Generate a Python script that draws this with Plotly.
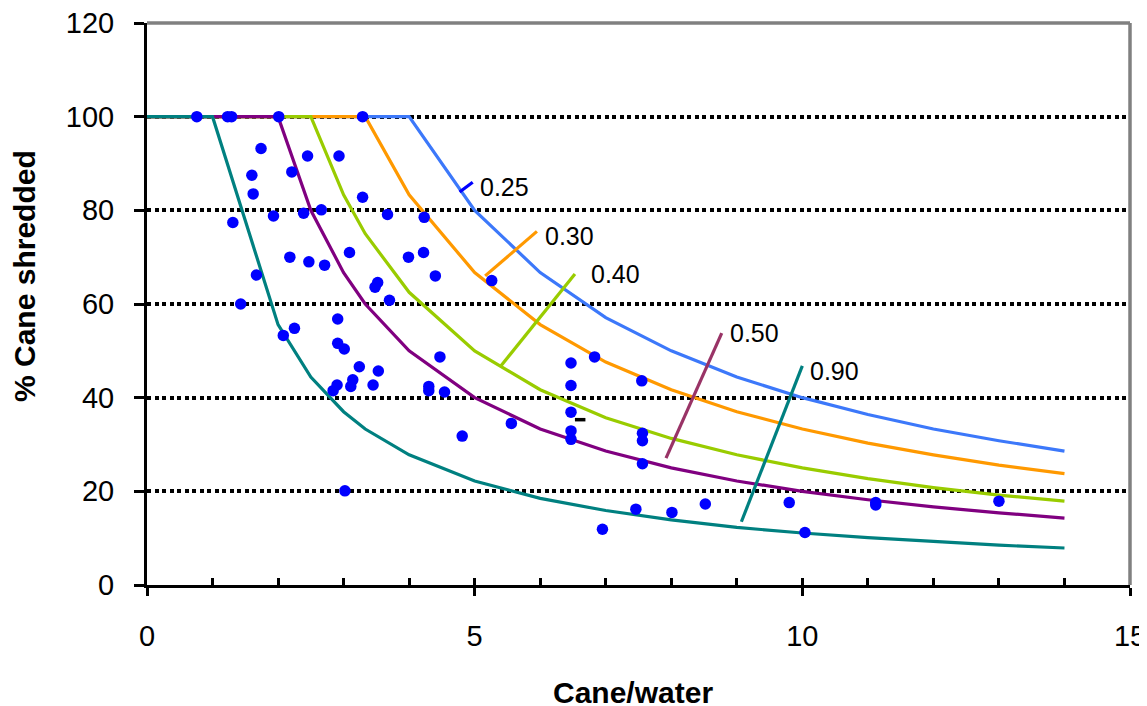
import plotly.graph_objects as go

# Model curves (cane/water vs % cane shredded), one list per water ratio
x_curve = [0, 1, 2, 2.5, 3, 3.33, 4, 5, 6, 7, 8, 9, 10, 11, 12, 13, 14]
y_025 = [100, 100, 100, 100, 100, 100, 100, 80, 66.7, 57.1, 50, 44.4, 40, 36.4, 33.3, 30.8, 28.6]
y_030 = [100, 100, 100, 100, 100, 100, 83.3, 66.7, 55.6, 47.6, 41.7, 37.0, 33.3, 30.3, 27.8, 25.6, 23.8]
y_040 = [100, 100, 100, 100, 83.3, 75, 62.5, 50, 41.7, 35.7, 31.3, 27.8, 25, 22.7, 20.8, 19.2, 17.9]
y_050 = [100, 100, 100, 80, 66.7, 60, 50, 40, 33.3, 28.6, 25, 22.2, 20, 18.2, 16.7, 15.4, 14.3]
y_090 = [100, 100, 55.6, 44.4, 37.0, 33.3, 27.8, 22.2, 18.5, 15.9, 13.9, 12.3, 11.1, 10.1, 9.3, 8.5, 7.9]

curve_names = ["0.25", "0.30", "0.40", "0.50", "0.90"]

# Experimental points
exp_x = [0.76, 1.23, 1.29, 2.01, 3.29,
         1.74, 2.45, 2.93, 1.60, 2.21, 1.62, 3.29,
         1.31, 1.93, 2.39, 2.66, 3.67, 4.23,
         2.18, 2.47, 2.71, 3.09, 3.99, 4.22,
         1.67, 3.52, 3.48, 4.40, 3.70, 1.43,
         2.91, 2.25, 2.08, 2.91, 3.01, 4.47,
         3.24, 3.53, 3.14, 3.11, 2.90, 2.84,
         3.45, 4.30, 4.30, 4.54, 3.02, 5.26,
         6.47, 6.83, 6.47, 7.55, 5.56, 4.81,
         6.47, 6.47, 6.47, 7.56, 7.56, 7.56,
         7.46, 8.01, 8.52, 6.95, 9.80, 10.04,
         11.12, 11.12, 13.00]
exp_y = [100, 100, 100, 100, 100,
         93.2, 91.6, 91.6, 87.5, 88.2, 83.5, 82.8,
         77.4, 78.8, 79.4, 80.1, 79.1, 78.5,
         70.0, 69.0, 68.3, 71.0, 70.0, 71.0,
         66.2, 64.6, 63.6, 66.0, 60.8, 60.0,
         56.8, 54.8, 53.3, 51.6, 50.4, 48.7,
         46.6, 45.7, 43.8, 42.4, 42.7, 41.5,
         42.7, 42.4, 41.5, 41.2, 20.1, 65.0,
         47.4, 48.7, 42.6, 43.6, 34.5, 31.8,
         36.9, 32.9, 31.1, 32.4, 30.8, 25.9,
         16.2, 15.5, 17.3, 11.9, 17.6, 11.2,
         17.6, 17.1, 17.9]

# Label leader lines (start, end) and label anchor positions
lead_025_x = [4.77, 4.97]
lead_025_y = [83.9, 86.0]
lead_030_x = [5.16, 5.95]
lead_030_y = [66.0, 75.5]
lead_040_x = [5.39, 6.53]
lead_040_y = [46.6, 66.4]
lead_050_x = [7.92, 8.77]
lead_050_y = [27.1, 53.8]
lead_090_x = [9.07, 10.0]
lead_090_y = [13.5, 46.8]
label_x = [5.05, 6.04, 6.74, 8.87, 10.09]
label_y = [85.0, 74.6, 66.4, 53.8, 45.8]

x_ticks = [0, 5, 10, 15]
x_minor_ticks = list(range(0, 16))
y_ticks = [0, 20, 40, 60, 80, 100, 120]

FONT = "Arial, Liberation Sans, sans-serif"

curve_colors = ["#3C78FA", "#FF9900", "#99CC00", "#800080", "#008080"]
lead_colors = ["#0000FF", "#FF9900", "#99CC00", "#993366", "#008080"]

fig = go.Figure()

for name, ys, col in zip(curve_names, [y_025, y_030, y_040, y_050, y_090], curve_colors):
    fig.add_trace(go.Scatter(x=x_curve, y=ys, mode="lines", name=name,
                             line=dict(color=col, width=3.2), showlegend=False))

leads = [(lead_025_x, lead_025_y), (lead_030_x, lead_030_y), (lead_040_x, lead_040_y),
         (lead_050_x, lead_050_y), (lead_090_x, lead_090_y)]
for (lx, ly), col in zip(leads, lead_colors):
    fig.add_trace(go.Scatter(x=lx, y=ly, mode="lines", line=dict(color=col, width=3.2),
                             showlegend=False, hoverinfo="skip"))

fig.add_trace(go.Scatter(x=exp_x, y=exp_y, mode="markers", name="data",
                         marker=dict(color="#0000FF", size=11.5, line=dict(width=0)),
                         showlegend=False))

# invisible trace on overlay axis (inside minor ticks)
fig.add_trace(go.Scatter(x=[0, 15], y=[0, 0], xaxis="x2", mode="markers",
                         marker=dict(opacity=0), showlegend=False, hoverinfo="skip"))

for name, lx, ly in zip(curve_names, label_x, label_y):
    fig.add_annotation(x=lx, y=ly, text=name, showarrow=False, xanchor="left",
                       yanchor="middle", font=dict(family=FONT, size=25, color="black"))

# small dash mark
fig.add_shape(type="line", x0=6.53, x1=6.69, y0=35.3, y1=35.3, xref="x", yref="y",
              line=dict(color="black", width=3.5))

# gray frame top/right
fig.add_shape(type="line", xref="paper", yref="paper", x0=0, x1=1, y0=1, y1=1,
              line=dict(color="#808080", width=3.5))
fig.add_shape(type="line", xref="paper", yref="paper", x0=1, x1=1, y0=0, y1=1,
              line=dict(color="#808080", width=3.5))

fig.add_annotation(text="<b>Cane/water</b>", xref="paper", yref="paper", x=0.4944, y=-0.192,
                   showarrow=False, xanchor="center", yanchor="middle",
                   font=dict(family=FONT, size=30, color="black"))
fig.add_annotation(text="<b>% Cane shredded</b>", xref="paper", yref="paper", x=-0.124, y=0.55,
                   showarrow=False, xanchor="center", yanchor="middle", textangle=-90,
                   font=dict(family=FONT, size=30, color="black"))

# page body has an 8px default margin, so margins are reduced by 8px on left/top
fig.update_layout(
    width=1147, height=706,
    margin=dict(l=139, r=25, t=15, b=129, autoexpand=False),
    paper_bgcolor="white", plot_bgcolor="white",
    font=dict(family=FONT, size=29, color="black"),
    xaxis=dict(range=[0, 15], tickvals=x_ticks, ticks="outside", ticklen=8, tickwidth=3,
               tickcolor="black", showline=True, linecolor="black", linewidth=3,
               showgrid=False, zeroline=False, ticklabelstandoff=15, automargin=False,
               ticklabeloverflow="allow",
               tickfont=dict(family=FONT, size=29, color="black")),
    xaxis2=dict(range=[0, 15], overlaying="x", anchor="y", side="bottom",
                tickvals=x_minor_ticks, ticks="inside", ticklen=7, tickwidth=2.5,
                tickcolor="black", showticklabels=False, showline=False, automargin=False,
                showgrid=False, zeroline=False),
    yaxis=dict(range=[0, 120], tickvals=y_ticks, ticks="outside", ticklen=10, tickwidth=3,
               tickcolor="black", showline=True, linecolor="black", linewidth=3,
               showgrid=True, gridcolor="black", gridwidth=3.5, griddash="4px,3.5px",
               zeroline=False, ticklabelstandoff=14, automargin=False,
               ticklabeloverflow="allow",
               tickfont=dict(family=FONT, size=29, color="black")),
)

fig.write_html("out.html", config={"displayModeBar": False})
